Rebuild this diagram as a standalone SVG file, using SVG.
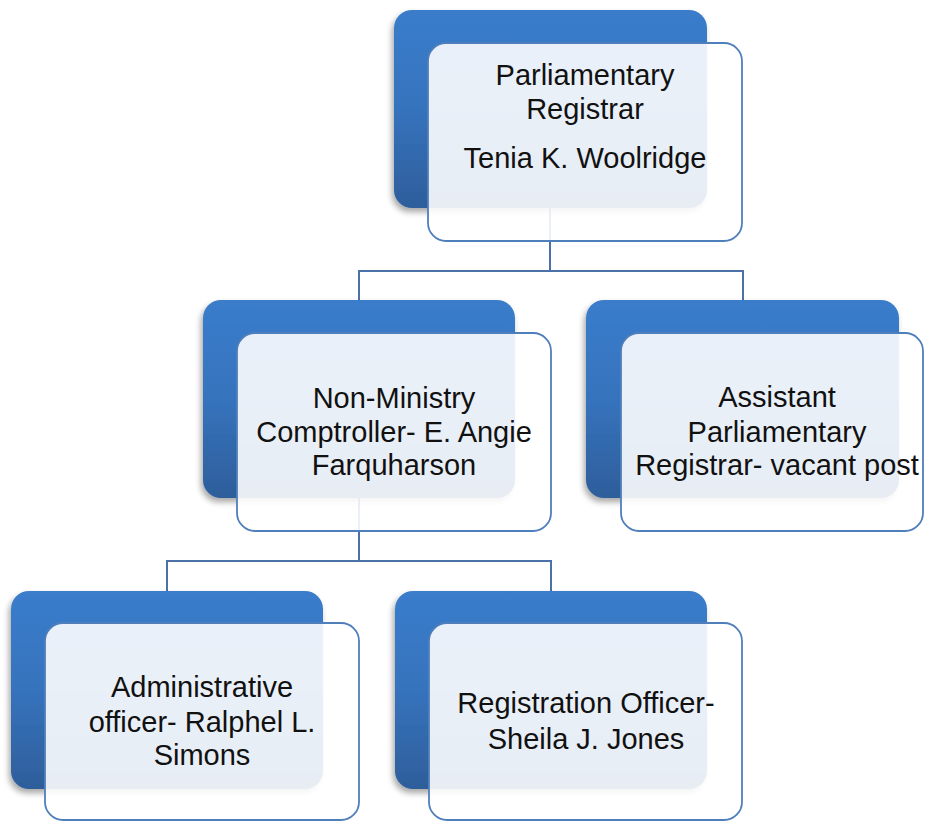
<svg xmlns="http://www.w3.org/2000/svg" width="925" height="821" viewBox="0 0 925 821">
<defs>
<linearGradient id="blue" x1="0" y1="0" x2="0" y2="1">
<stop offset="0" stop-color="#3a7dcb"/>
<stop offset="0.5" stop-color="#3673bd"/>
<stop offset="1" stop-color="#2e5e9b"/>
</linearGradient>
<filter id="sh" x="-10%" y="-10%" width="125%" height="125%">
<feGaussianBlur in="SourceAlpha" stdDeviation="3"/>
<feOffset dx="-2" dy="4" result="b"/>
<feComponentTransfer><feFuncA type="linear" slope="0.35"/></feComponentTransfer>
<feMerge><feMergeNode/><feMergeNode in="SourceGraphic"/></feMerge>
</filter>
</defs>
<style>
.back{fill:url(#blue);filter:url(#sh);}
.front{fill:#ffffff;fill-opacity:0.89;stroke:#4f7fbb;stroke-width:1.8;}
.conn{fill:none;stroke:#4a72a8;stroke-width:2;}
text{font-family:"Liberation Sans",Arial,sans-serif;font-size:29px;fill:#111;text-anchor:middle;}
</style>
<rect width="925" height="821" fill="#ffffff"/>
<g id="connectors">
<path class="conn" d="M550,208 V271 M359,300 V271 H743 V300"/>
<path class="conn" d="M359,498 V561 M167,591 V561 H551 V591"/>
</g>
<g id="node-registrar">
<rect class="back" x="394" y="10" width="313" height="198" rx="18"/>
<rect class="front" x="428" y="43" width="314" height="198" rx="18"/>
<text x="585" y="85">Parliamentary</text>
<text x="585" y="119">Registrar</text>
<text x="585" y="168">Tenia K. Woolridge</text>
</g>
<g id="node-comptroller">
<rect class="back" x="203" y="300" width="312" height="198" rx="18"/>
<rect class="front" x="237" y="333" width="314" height="198" rx="18"/>
<text x="394" y="408">Non-Ministry</text>
<text x="394" y="442">Comptroller- E. Angie</text>
<text x="394" y="475">Farquharson</text>
</g>
<g id="node-assistant">
<rect class="back" x="586" y="300" width="313" height="198" rx="18"/>
<rect class="front" x="621" y="333" width="302" height="198" rx="18"/>
<text x="777" y="407">Assistant</text>
<text x="777" y="442">Parliamentary</text>
<text x="777" y="475">Registrar- vacant post</text>
</g>
<g id="node-admin">
<rect class="back" x="11" y="591" width="312" height="198" rx="18"/>
<rect class="front" x="45" y="623" width="314" height="197" rx="18"/>
<text x="202" y="697">Administrative</text>
<text x="202" y="732">officer- Ralphel L.</text>
<text x="202" y="765">Simons</text>
</g>
<g id="node-registration">
<rect class="back" x="395" y="591" width="312" height="198" rx="18"/>
<rect class="front" x="429" y="623" width="313" height="197" rx="18"/>
<text x="586" y="713">Registration Officer-</text>
<text x="586" y="749">Sheila J. Jones</text>
</g>
</svg>
